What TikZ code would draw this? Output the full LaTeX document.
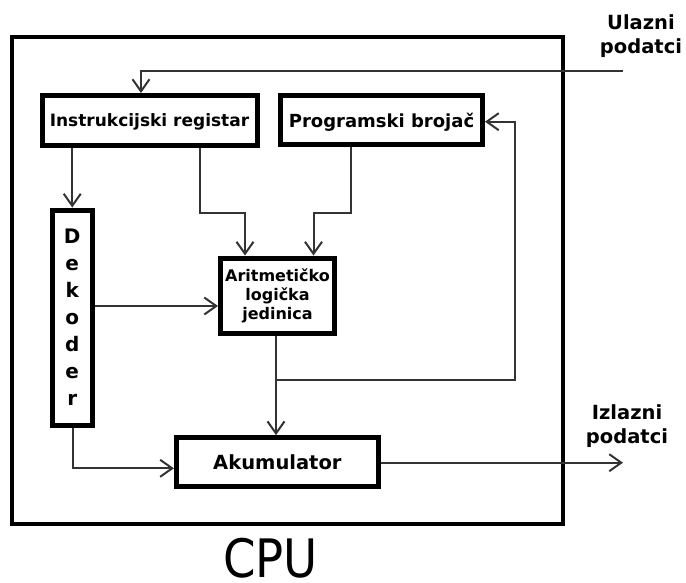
\documentclass[tikz,border=0pt]{standalone}
\usepackage{fontspec}
\setmainfont{DejaVu Sans}
\usetikzlibrary{arrows.meta}
\tikzset{
  blk/.style={draw=black, line width=5pt, fill=white, inner sep=0pt, font=\bfseries},
  arr/.style={draw=black!80, line width=2pt, -{Straight Barb[length=12pt,width=17pt,line width=2pt]}},
  lbl/.style={align=center, inner sep=0pt, font=\bfseries\fontsize{19.5}{24}\selectfont}
}
\begin{document}
\begin{tikzpicture}[x=1pt,y=-1pt]
\useasboundingbox (0,0) rectangle (686,582);
% outer CPU frame
\draw[line width=4.5pt] (12,37) rectangle (563,524) coordinate (cpuframe);
\node[inner sep=0pt, anchor=base, font=\fontsize{53}{60}\selectfont] (cpu) at (270.5,577.5) {\scalebox{0.88}[1]{CPU}};

% blocks
\node[blk, minimum width=215pt, minimum height=50pt, text depth=0pt, font=\bfseries\fontsize{17}{20}\selectfont] (ir) at (149.5,120.5) {Instrukcijski registar};
\node[blk, minimum width=202pt, minimum height=49pt, text depth=0pt, font=\bfseries\fontsize{18}{21}\selectfont] (pb) at (381.5,120) {Programski broja\v{c}};
\node[blk, minimum width=40.5pt, minimum height=215pt, align=center, font=\bfseries\fontsize{20}{27}\selectfont] (dek) at (72.25,317.5) {D\\e\\k\\o\\d\\e\\r};
\node[blk, minimum width=114pt, minimum height=75.5pt, align=center, font=\bfseries\fontsize{16}{19.2}\selectfont] (alu) at (277.5,295.75) {Aritmeti\v{c}ko\\logi\v{c}ka\\jedinica};
\node[blk, minimum width=202pt, minimum height=49pt, text depth=0pt, font=\bfseries\fontsize{19.5}{22}\selectfont] (ak) at (277.4,462.1) {Akumulator};

% external labels
\node[lbl] (ulaz) at (641,35.9) {Ulazni\\podatci};
\node[lbl] (izlaz) at (627,425.9) {Izlazni\\podatci};
\coordinate (in) at (623,70.7);
\coordinate (out) at (623,462.7);

% connectors
\draw[arr] (in) -| ([xshift=-8.5pt]ir.north);
\draw[arr] (dek.north |- ir.south) -- (dek.north);
\draw[arr] ([xshift=50.5pt]ir.south) -- ++(0,65) -| ([xshift=-32.5pt]alu.north);
\draw[arr] ([xshift=-30.5pt]pb.south) -- ++(0,66) -| ([xshift=36pt]alu.north);
\coordinate (dq) at ([yshift=-10.25pt]alu.west);
\draw[arr] (dek.east |- dq) -- (dq);
\draw[arr] ([xshift=-1.5pt]alu.south) -- ([xshift=-1.5pt]alu.south |- ak.north);
\coordinate (fb) at ([xshift=-1.5pt]alu.south |- 0,380);
\draw[arr] (fb) -- (515,380) |- ([yshift=-1.7pt]pb.east);
\draw[arr] ([xshift=1pt]dek.south) |- ([yshift=-6.2pt]ak.west);
\draw[arr] (ak.east |- out) -- (out);
\end{tikzpicture}
\end{document}
